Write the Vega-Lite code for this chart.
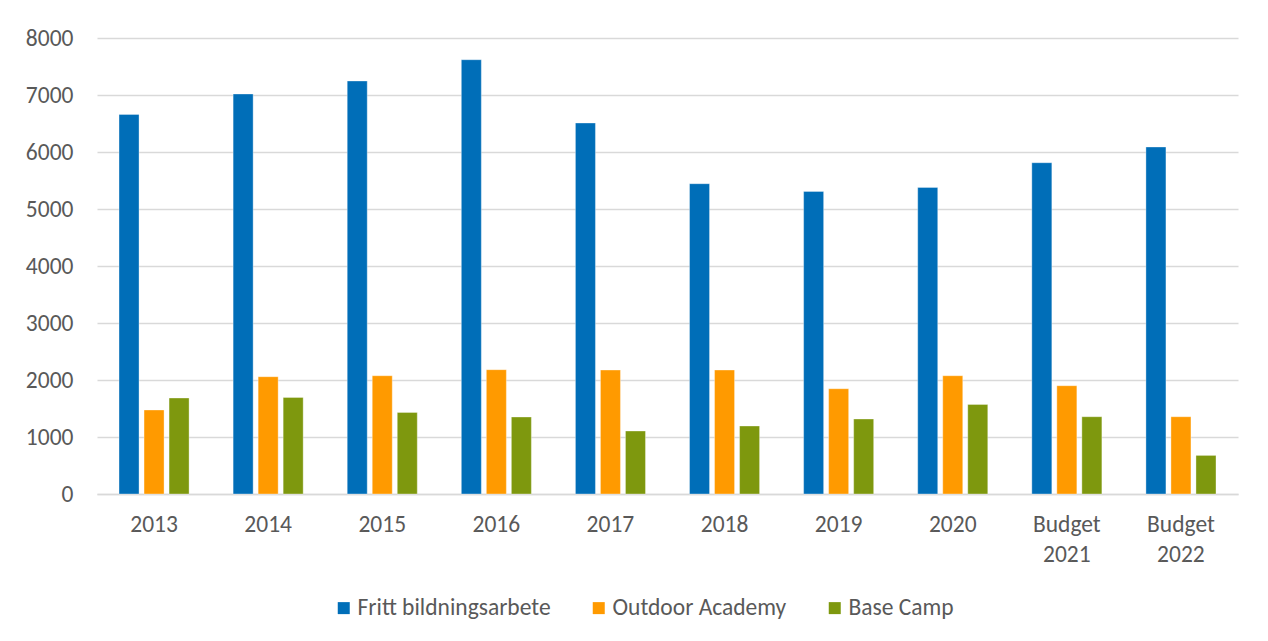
{
  "$schema": "https://vega.github.io/schema/vega-lite/v6.json",
  "width": 1141,
  "height": 456,
  "autosize": {"type": "none"},
  "padding": {"left": 97, "top": 38, "right": 30, "bottom": 147},
  "background": "white",
  "data": {
    "values": [
      {"year": "2013", "series": "Fritt bildningsarbete", "value": 6660},
      {"year": "2013", "series": "Outdoor Academy", "value": 1474},
      {"year": "2013", "series": "Base Camp", "value": 1684},
      {"year": "2014", "series": "Fritt bildningsarbete", "value": 7018},
      {"year": "2014", "series": "Outdoor Academy", "value": 2058},
      {"year": "2014", "series": "Base Camp", "value": 1695},
      {"year": "2015", "series": "Fritt bildningsarbete", "value": 7246},
      {"year": "2015", "series": "Outdoor Academy", "value": 2075},
      {"year": "2015", "series": "Base Camp", "value": 1432},
      {"year": "2016", "series": "Fritt bildningsarbete", "value": 7619},
      {"year": "2016", "series": "Outdoor Academy", "value": 2181},
      {"year": "2016", "series": "Base Camp", "value": 1351},
      {"year": "2017", "series": "Fritt bildningsarbete", "value": 6509},
      {"year": "2017", "series": "Outdoor Academy", "value": 2175},
      {"year": "2017", "series": "Base Camp", "value": 1105},
      {"year": "2018", "series": "Fritt bildningsarbete", "value": 5444},
      {"year": "2018", "series": "Outdoor Academy", "value": 2175},
      {"year": "2018", "series": "Base Camp", "value": 1193},
      {"year": "2019", "series": "Fritt bildningsarbete", "value": 5309},
      {"year": "2019", "series": "Outdoor Academy", "value": 1847},
      {"year": "2019", "series": "Base Camp", "value": 1316},
      {"year": "2020", "series": "Fritt bildningsarbete", "value": 5379},
      {"year": "2020", "series": "Outdoor Academy", "value": 2075},
      {"year": "2020", "series": "Base Camp", "value": 1572},
      {"year": "Budget 2021", "series": "Fritt bildningsarbete", "value": 5812},
      {"year": "Budget 2021", "series": "Outdoor Academy", "value": 1900},
      {"year": "Budget 2021", "series": "Base Camp", "value": 1356},
      {"year": "Budget 2022", "series": "Fritt bildningsarbete", "value": 6088},
      {"year": "Budget 2022", "series": "Outdoor Academy", "value": 1356},
      {"year": "Budget 2022", "series": "Base Camp", "value": 677}
    ]
  },
  "mark": {"type": "bar", "stroke": "#ffffff", "strokeOpacity": 0.35, "strokeWidth": 1},
  "encoding": {
    "x": {
      "field": "year",
      "type": "nominal",
      "sort": null,
      "scale": {"paddingInner": 0.386, "paddingOuter": 0.193},
      "axis": {
        "title": null,
        "labelAngle": 0,
        "ticks": false,
        "domain": true,
        "domainColor": "#d9d9d9",
        "domainWidth": 1.5,
        "labelPadding": 18,
        "labelLineHeight": 30,
        "labelExpr": "split(datum.label, ' ')"
      }
    },
    "xOffset": {
      "field": "series",
      "type": "nominal",
      "sort": ["Fritt bildningsarbete", "Outdoor Academy", "Base Camp"],
      "scale": {"paddingInner": 0.2, "paddingOuter": 0}
    },
    "y": {
      "field": "value",
      "type": "quantitative",
      "scale": {"domain": [0, 8000]},
      "axis": {
        "title": null,
        "format": "d",
        "values": [0, 1000, 2000, 3000, 4000, 5000, 6000, 7000, 8000],
        "ticks": false,
        "domain": false,
        "grid": true,
        "gridColor": "#d9d9d9",
        "gridWidth": 1.5,
        "labelPadding": 24
      }
    },
    "color": {
      "field": "series",
      "type": "nominal",
      "sort": ["Fritt bildningsarbete", "Outdoor Academy", "Base Camp"],
      "scale": {
        "domain": ["Fritt bildningsarbete", "Outdoor Academy", "Base Camp"],
        "range": ["#006EB8", "#FF9A00", "#7E980E"]
      },
      "legend": {
        "title": null,
        "orient": "none",
        "direction": "horizontal",
        "legendX": 235,
        "legendY": 558,
        "symbolType": "square",
        "symbolSize": 144,
        "symbolStrokeWidth": 0,
        "labelOffset": 2,
        "labelLimit": 400,
        "columnPadding": 36
      }
    }
  },
  "config": {
    "font": "Carlito, Lato, sans-serif",
    "view": {"stroke": null},
    "axis": {"labelFont": "Carlito, Lato, sans-serif", "labelFontSize": 23.5, "labelColor": "#595959"},
    "legend": {"labelFont": "Carlito, Lato, sans-serif", "labelFontSize": 23.5, "labelColor": "#595959"}
  }
}
